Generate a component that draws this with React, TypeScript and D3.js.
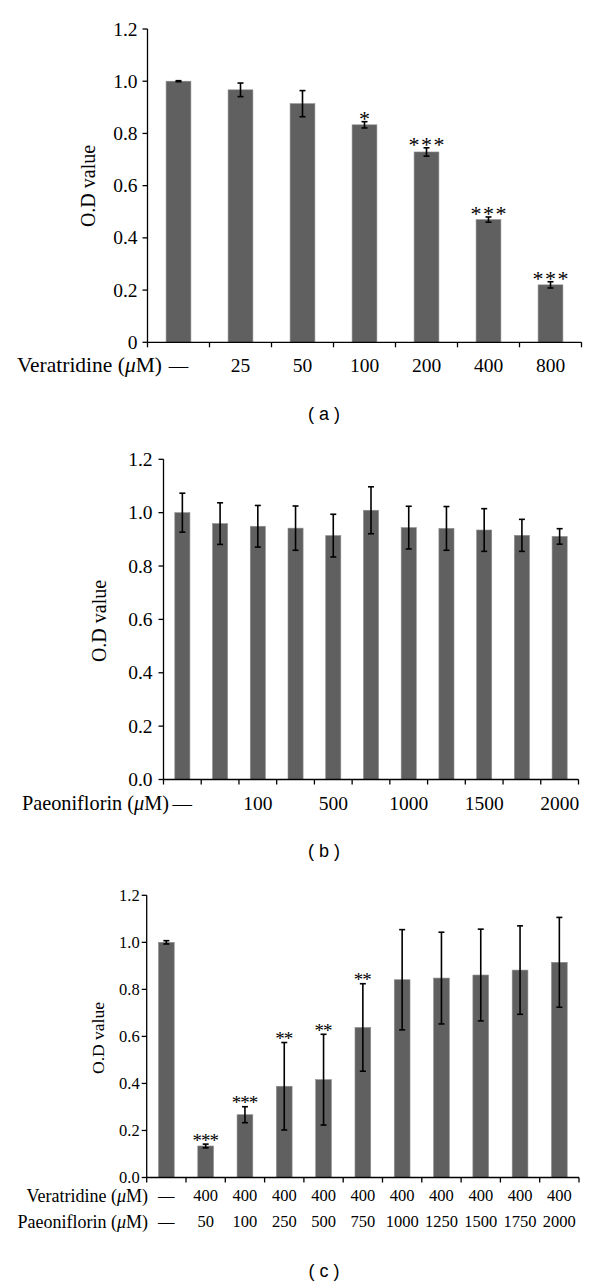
import React from 'react';
import * as d3 from 'd3';

const yTicks = [0, 0.2, 0.4, 0.6, 0.8, 1.0, 1.2];

// (a) veratridine alone
const doseA = ['—', '25', '50', '100', '200', '400', '800'];
const meanA = [1.0, 0.967, 0.914, 0.833, 0.729, 0.47, 0.22];
const errA = [0.002, 0.026, 0.05, 0.012, 0.016, 0.01, 0.012];
const starsA = ['', '', '', '*', '***', '***', '***'];

// (b) paeoniflorin alone
const doseB = ['—', '', '100', '', '500', '', '1000', '', '1500', '', '2000'];
const meanB = [1.0, 0.959, 0.949, 0.942, 0.914, 1.009, 0.944, 0.941, 0.935, 0.915, 0.911];
const errB = [0.073, 0.078, 0.078, 0.083, 0.08, 0.088, 0.08, 0.082, 0.08, 0.06, 0.029];
const starsB = ['', '', '', '', '', '', '', '', '', '', ''];

// (c) veratridine 400 + paeoniflorin
const veraC = ['—', '400', '400', '400', '400', '400', '400', '400', '400', '400', '400'];
const paeoC = ['—', '50', '100', '250', '500', '750', '1000', '1250', '1500', '1750', '2000'];
const meanC = [1.0, 0.134, 0.267, 0.388, 0.416, 0.638, 0.841, 0.848, 0.861, 0.882, 0.915];
const errC = [0.007, 0.008, 0.034, 0.186, 0.193, 0.186, 0.213, 0.195, 0.195, 0.188, 0.191];
const starsC = ['', '***', '***', '**', '**', '**', '', '', '', '', ''];

const SERIF = '"Liberation Serif", "Times New Roman", serif';
const SANS = '"Liberation Sans", Arial, sans-serif';
const BAR = '#606060';

type Row = { title: string; labels: string[]; y: number };

type PanelProps = {
  means: number[];
  errs: number[];
  stars: string[];
  rows: Row[];
  left: number;
  right: number;
  top: number;
  bottom: number;
  tickFont: number;
  titleFont: number;
  titleX: number;
  tickPad: number;
  zeroLabel: string;
  yLabelX: number;
  yLabelY: number;
  yLabelFont: number;
  starFont: number;
  starSpacing: number;
  caption: string;
  captionY: number;
};

function Panel(p: PanelProps) {
  const idx = p.means.map((_, i) => i);
  const x = d3.scaleBand<number>().domain(idx).range([p.left, p.right]).paddingInner(0.6).paddingOuter(0.3);
  const y = d3.scaleLinear().domain([0, 1.2]).range([p.bottom, p.top]);
  const fmt = d3.format('.1f');
  const step = x.step();
  const bounds = d3.range(idx.length + 1).map(i => p.left + i * step);
  const cx = (i: number) => (x(i) as number) + x.bandwidth() / 2;

  return (
    <g>
      {/* bars */}
      {p.means.map((m, i) => (
        <rect key={'b' + i} x={x(i)} y={y(m)} width={x.bandwidth()} height={y(0) - y(m)}
          fill={BAR} stroke="#8c8c8c" strokeWidth={0.6} />
      ))}
      {/* error bars */}
      {p.means.map((m, i) => {
        const hi = y(m + p.errs[i]);
        const lo = y(m - p.errs[i]);
        const c = cx(i);
        return (
          <g key={'e' + i} stroke="#000" strokeWidth={1.6}>
            <line x1={c} x2={c} y1={hi} y2={lo} />
            <line x1={c - 3} x2={c + 3} y1={hi} y2={hi} />
            <line x1={c - 3} x2={c + 3} y1={lo} y2={lo} />
          </g>
        );
      })}
      {/* significance stars */}
      {p.stars.map((s, i) => s && (
        <text key={'s' + i} x={cx(i) + p.starSpacing / 2} y={y(p.means[i] + p.errs[i]) - 6 + p.starFont * 0.45}
          textAnchor="middle" fontFamily={SERIF} fontSize={p.starFont} letterSpacing={p.starSpacing} fill="#000">{s}</text>
      ))}
      {/* y axis */}
      <line x1={p.left} x2={p.left} y1={y(1.2)} y2={y(0)} stroke="#000" strokeWidth={1.3} />
      {yTicks.map(t => (
        <g key={'y' + t}>
          <line x1={p.left - 5} x2={p.left} y1={y(t)} y2={y(t)} stroke="#000" strokeWidth={1.3} />
          <text x={p.left - p.tickPad} y={y(t)} dy="0.34em" textAnchor="end" fontFamily={SERIF} fontSize={p.tickFont}>
            {t === 0 ? p.zeroLabel : fmt(t)}
          </text>
        </g>
      ))}
      <text transform={`translate(${p.yLabelX},${p.yLabelY}) rotate(-90)`} dy="0.34em" textAnchor="middle"
        fontFamily={SERIF} fontSize={p.yLabelFont}>O.D value</text>
      {/* x axis */}
      <line x1={p.left} x2={p.right} y1={y(0)} y2={y(0)} stroke="#000" strokeWidth={1.3} />
      {bounds.map((b, i) => (
        <line key={'t' + i} x1={b} x2={b} y1={y(0)} y2={y(0) + 5} stroke="#000" strokeWidth={1.3} />
      ))}
      {p.rows.map((r, ri) => (
        <g key={'r' + ri}>
          <text x={p.titleX} y={r.y} dy="0.34em" textAnchor="end" fontFamily={SERIF} fontSize={p.titleFont}>
            {r.title.split('μ')[0]}
            <tspan fontStyle="italic">μ</tspan>
            {r.title.split('μ')[1]}
          </text>
          {r.labels.map((l, i) => (
            <text key={i} x={cx(i)} y={r.y} dy="0.34em" textAnchor="middle" fontFamily={SERIF} fontSize={p.tickFont}>{l}</text>
          ))}
        </g>
      ))}
      <text x={324} y={p.captionY} dy="0.35em" textAnchor="middle" fontFamily={SANS} fontSize={18}>{p.caption}</text>
    </g>
  );
}

export default function App() {
  return (
    <svg width={600} height={1286} style={{ position: 'absolute', left: 0, top: 0, background: '#fff' }}>
      <Panel means={meanA} errs={errA} stars={starsA}
        rows={[{ title: 'Veratridine (μM)', labels: doseA, y: 365 }]}
        left={147.5} right={581.5} top={29} bottom={342.3}
        tickFont={19.5} titleFont={21.5} titleX={162} tickPad={10} zeroLabel="0"
        yLabelX={88} yLabelY={186} yLabelFont={20} starFont={22} starSpacing={1.5}
        caption="( a )" captionY={414} />
      <Panel means={meanB} errs={errB} stars={starsB}
        rows={[{ title: 'Paeoniflorin (μM)', labels: doseB, y: 803 }]}
        left={163.5} right={578.5} top={459.3} bottom={779.5}
        tickFont={19.5} titleFont={20.3} titleX={169} tickPad={11} zeroLabel="0.0"
        yLabelX={99.5} yLabelY={621} yLabelFont={20} starFont={20} starSpacing={2}
        caption="( b )" captionY={851} />
      <Panel means={meanC} errs={errC} stars={starsC}
        rows={[
          { title: 'Veratridine (μM)', labels: veraC, y: 1195.5 },
          { title: 'Paeoniflorin (μM)', labels: paeoC, y: 1221.5 },
        ]}
        left={146.7} right={579} top={895.3} bottom={1177.5}
        tickFont={16.5} titleFont={18} titleX={148} tickPad={7} zeroLabel="0.0"
        yLabelX={98} yLabelY={1038} yLabelFont={17.5} starFont={19} starSpacing={-1}
        caption="( c )" captionY={1271} />
    </svg>
  );
}
